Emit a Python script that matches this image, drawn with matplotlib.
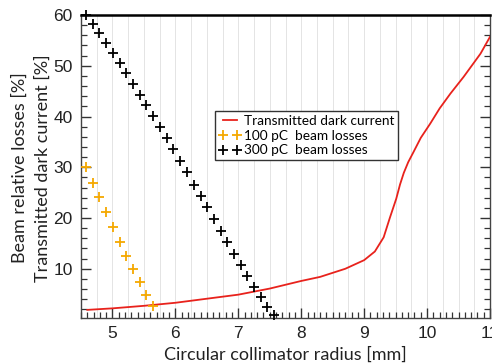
import numpy as np
import matplotlib.pyplot as plt
from matplotlib.ticker import MultipleLocator

# ---- data ----
dark_r = [4.6, 5.0, 5.5, 6.0, 6.5, 7.0, 7.5, 8.0, 8.3, 8.7, 9.0, 9.17,
          9.31, 9.41, 9.51, 9.57, 9.63, 9.7, 9.78, 9.9, 10.05, 10.2, 10.37,
          10.58, 10.85, 11.0]
dark_cur = [1.9, 2.2, 2.7, 3.3, 4.1, 4.9, 6.1, 7.6, 8.4, 10.0, 11.7, 13.4,
            16.2, 20.1, 23.8, 26.6, 28.9, 31.0, 32.9, 35.8, 38.6, 41.6, 44.5,
            47.8, 52.4, 55.7]

r_100 = [4.58, 4.69, 4.79, 4.90, 5.01, 5.12, 5.22, 5.33, 5.43, 5.54, 5.64]
loss_100 = [30.0, 26.9, 24.1, 21.1, 18.3, 15.3, 12.6, 9.9, 7.3, 4.9, 2.6]

r_300 = [4.58, 4.69, 4.79, 4.90, 5.01, 5.12, 5.22, 5.33, 5.44, 5.54, 5.64,
         5.75, 5.86, 5.96, 6.08, 6.19, 6.29, 6.40, 6.51, 6.61, 6.72, 6.82,
         6.93, 7.04, 7.14, 7.25, 7.36, 7.46, 7.57]
loss_300 = [60.0, 58.2, 56.4, 54.4, 52.6, 50.6, 48.6, 46.5, 44.3, 42.2, 40.1,
            37.9, 35.8, 33.5, 31.2, 29.0, 26.6, 24.4, 22.1, 19.8, 17.5, 15.2,
            13.0, 10.8, 8.6, 6.4, 4.5, 2.5, 0.9]

label_font = ['Lato', 'DejaVu Sans']
tick_font = ['Liberation Sans', 'DejaVu Sans']

fig = plt.figure(figsize=(4.92, 3.63), dpi=100)
ax = fig.add_axes([81 / 492, 1 - 318 / 363, 409 / 492, 303 / 363])

ax.plot(dark_r, dark_cur, color='#e8221c', linewidth=1.3,
        label='Transmitted dark current', zorder=3)
ax.plot(r_100, loss_100, linestyle='none', marker='+', color='#f5a800',
        markersize=7, markeredgewidth=1.3, label='100 pC  beam losses',
        zorder=4, clip_on=False)
ax.plot(r_300, loss_300, linestyle='none', marker='+', color='black',
        markersize=7, markeredgewidth=1.3, label='300 pC  beam losses',
        zorder=4, clip_on=False)

ax.set_xlim(4.5, 11)
ax.set_ylim(0.3, 60)
ax.set_xticks([5, 6, 7, 8, 9, 10, 11])
ax.set_yticks([10, 20, 30, 40, 50, 60])
ax.xaxis.set_minor_locator(MultipleLocator(0.1))
ax.yaxis.set_minor_locator(MultipleLocator(2))

# faint vertical grid
for gx in np.arange(4.75, 11, 0.25):
    ax.axvline(gx, color='#e4e4e4', linewidth=0.7, zorder=0)

ax.tick_params(which='both', direction='in', top=False, right=True,
               colors='#333333', labelcolor='#222222', labelsize=12.5)
ax.tick_params(which='major', length=7, width=1.0, pad=6)
ax.tick_params(which='minor', length=4, width=0.9)
for lab in ax.get_xticklabels() + ax.get_yticklabels():
    lab.set_family(tick_font)

for side in ['left', 'bottom', 'right']:
    ax.spines[side].set_color('#444444')
    ax.spines[side].set_linewidth(1.0)
ax.spines['top'].set_color('black')
ax.spines['top'].set_linewidth(1.8)

ax.set_xlabel('Circular collimator radius [mm]', fontsize=13,
              family=label_font, color='#222222', labelpad=4)
fig.text(20 / 492, 1 - 168 / 363, 'Beam relative losses [%]', rotation=90,
         fontsize=13, family=label_font, color='#222222',
         ha='center', va='center')
fig.text(43 / 492, 1 - 168 / 363, 'Transmitted dark current [%]', rotation=90,
         fontsize=13, family=label_font, color='#222222',
         ha='center', va='center')

leg = ax.legend(loc='upper left', bbox_to_anchor=(0.328, 0.684),
                borderaxespad=0, numpoints=2, fancybox=False, framealpha=1,
                edgecolor='#333333', handlelength=1.6, handletextpad=0.2,
                borderpad=0.3, labelspacing=0.2,
                prop={'family': label_font, 'size': 9.8})
leg.get_frame().set_linewidth(1.0)

fig.savefig('out.png', dpi=100, facecolor='white')
